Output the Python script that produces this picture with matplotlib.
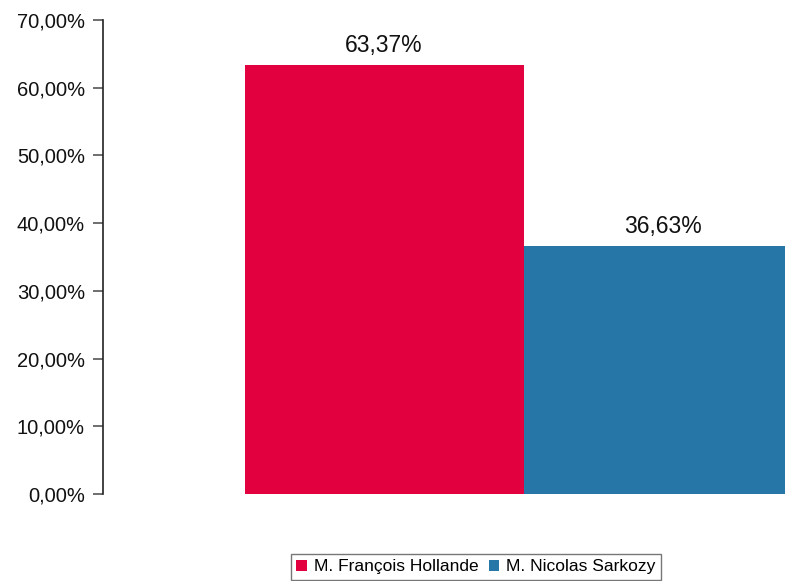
import matplotlib.pyplot as plt
from matplotlib.ticker import FuncFormatter

plt.rcParams['font.family'] = ['Liberation Sans', 'DejaVu Sans']

# données
candidats = ['M. François Hollande', 'M. Nicolas Sarkozy']
scores = [63.37, 36.63]
couleurs = ['#E2003E', '#2677A7']

fig = plt.figure(figsize=(7.85, 5.81), dpi=100)
ax = fig.add_axes([103 / 785, 87 / 581, (785 - 103) / 785, 474 / 581])

pos = list(range(len(candidats)))
barres = ax.bar(pos, scores, width=1.0, color=couleurs, label=candidats)

for x, v in zip(pos, scores):
    ax.text(x, v + 1.2, f'{v:.2f}%'.replace('.', ','), ha='center', va='bottom',
            fontsize=16.5, color='#111111')

ax.set_xlim(-1.007, 1.436)
ax.set_ylim(0, 70)
ax.set_yticks(range(0, 71, 10))
ax.yaxis.set_major_formatter(FuncFormatter(lambda v, p: f'{v:.2f}%'.replace('.', ',')))
ax.tick_params(axis='y', labelsize=14.5, length=7, width=1.2, color='#555555', pad=6,
               labelcolor='#111111')
ax.set_xticks([])

for s in ['top', 'right', 'bottom']:
    ax.spines[s].set_visible(False)
ax.spines['left'].set_color('#222222')
ax.spines['left'].set_linewidth(1.2)

leg = fig.legend(handles=list(barres), labels=candidats, loc='center',
                 bbox_to_anchor=(476 / 785, 1 - 567 / 581), ncol=2, fontsize=12.5,
                 frameon=True, fancybox=False, edgecolor='#555555',
                 handlelength=0.6, handleheight=0.6, handletextpad=0.4,
                 columnspacing=0.6, borderpad=0.3)
leg.get_frame().set_linewidth(1.0)

fig.savefig('out.png', dpi=100)
